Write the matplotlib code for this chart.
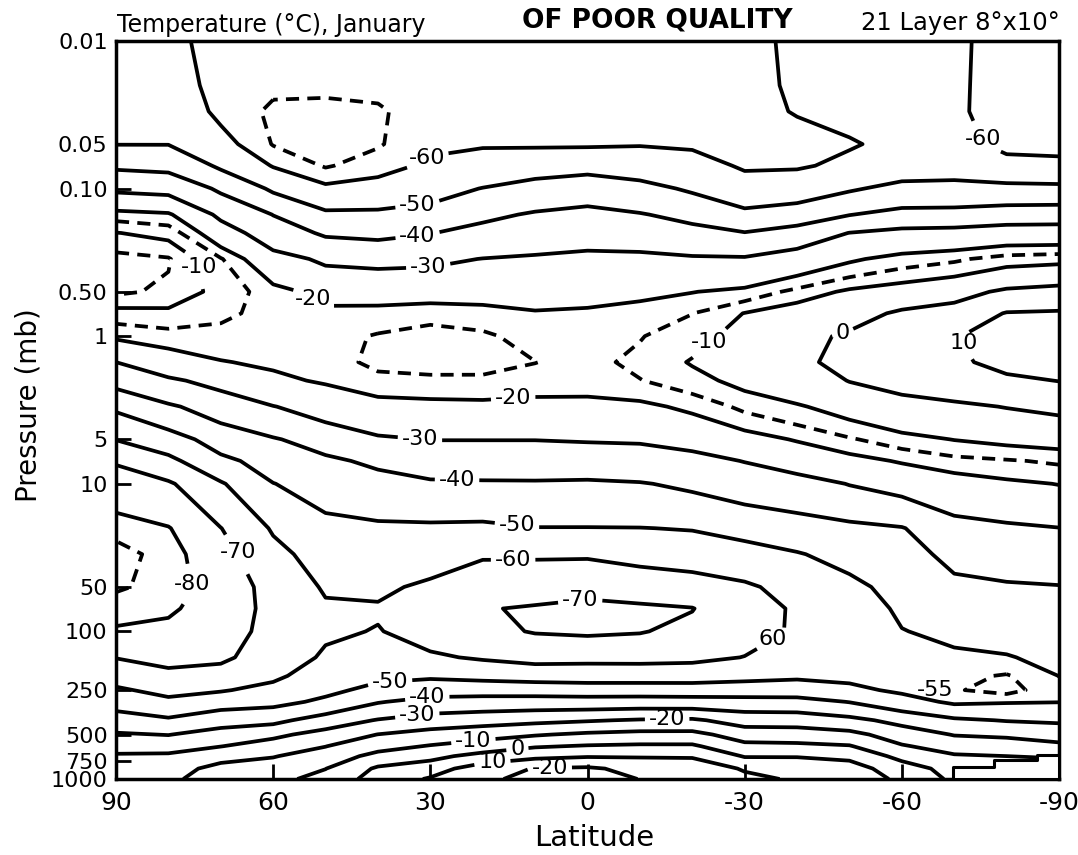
import numpy as np
import matplotlib
matplotlib.use("Agg")
import matplotlib.pyplot as plt

plt.rcParams['font.family'] = ['DejaVu Sans']
plt.rcParams['lines.dashed_pattern'] = [3.5, 2.2]

# grid: latitude columns (90N -> 90S) and pressure rows (mb)
lats = [90, 80, 70, 60, 50, 40, 30, 20, 10, 0, -10, -20, -30, -40, -50, -60, -70, -80, -90]
pres = [0.01, 0.02, 0.03, 0.05, 0.07, 0.1, 0.15, 0.2, 0.3, 0.5, 0.7, 1, 1.5, 2, 3, 5, 7,
        10, 20, 30, 50, 70, 100, 150, 200, 250, 300, 400, 500, 600, 700, 850, 1000]

# temperature (C) per latitude, top of the atmosphere down to the surface
t90n = [-57, -54, -52.2, -50.2, -41.5, -31.8, -17.5, -9.8, -3, -4, -12.3, -18.8, -30, -36.8, -48.5, -59.7, -69, -75.5, -83.4, -87, -85.6, -82.8, -79, -70.3, -63.7, -58.7, -53.5, -46, -39, -33, -29, -27, -26]
t80n = [-58.5, -57, -55, -50.2, -42.5, -33, -19, -11.8, -4.5, -6, -11.5, -17, -24, -31.5, -41.3, -54.7, -62.4, -71.3, -80.5, -83, -83.5, -81.5, -77.4, -72.6, -67.8, -62.6, -58, -48.5, -40.3, -33.5, -28.5, -24, -22]
t70n = [-62, -62, -61.5, -57.4, -51.5, -41.5, -32, -25.3, -14.5, -12, -13.7, -17, -20.3, -27, -35.7, -45.4, -52.4, -61, -70.2, -74, -76, -75, -73.5, -71.5, -66.7, -60.8, -54, -44.2, -36, -30.2, -23.3, -17, -15]
t60n = [-63, -64, -66, -65.3, -60.5, -51.5, -40.2, -35.4, -26.7, -17.5, -17, -17.8, -19, -21.4, -30.3, -40.8, -46, -50.2, -59, -63, -66.5, -67.5, -67.5, -66, -62, -57, -52.6, -42.7, -32.1, -25.8, -20.5, -15.5, -13]
t50n = [-62, -63.5, -67, -68, -65.5, -58.4, -48, -41.2, -31.5, -22.4, -18.5, -17, -17.5, -19.2, -25.8, -35.9, -41.8, -46.3, -52.7, -55.4, -59, -61.2, -61.3, -58.6, -54.8, -52, -48.3, -35.3, -26.5, -20.2, -15.7, -10.2, -6.5]
t40n = [-62, -63.5, -65.8, -65.5, -62.5, -57, -48, -42.3, -32.4, -22.9, -18.1, -14.5, -13.5, -16.7, -22.4, -31.3, -38.1, -43.7, -51.7, -54.7, -58.5, -60.8, -59.6, -55, -51.8, -47.6, -40.6, -29.4, -19.8, -13.5, -6.9, 1.5, 4]
t30n = [-61.5, -62, -62, -61.3, -58.7, -53.6, -46.6, -40.3, -31.7, -23.2, -16.7, -13, -13.5, -15.8, -22.1, -29.8, -35.4, -41.3, -51.8, -56.5, -61.5, -64, -63.3, -58.8, -51.5, -44.1, -36.9, -25.6, -16.3, -9.3, -2.7, 5.3, 11]
t20n = [-61, -61, -61, -60.7, -56.3, -49.7, -42.1, -36.9, -29.8, -22.9, -17.8, -14, -13.7, -15.7, -21.8, -29.8, -35.3, -41, -52.2, -59.2, -65, -69.5, -68, -61, -52.8, -44, -36, -24, -13.6, -5.4, 3.3, 15.5, 18]
t10n = [-61, -61, -61, -61, -54, -46.5, -39, -34.8, -28.9, -22.9, -19.5, -17.2, -14.9, -16.8, -22.3, -29.8, -35.3, -40.9, -50.3, -59, -66.4, -70.8, -70.5, -63, -54, -44.3, -35.7, -22.3, -10.8, -0.9, 7.5, 20.5, 23]
t0 = [-61.5, -61.5, -61.5, -61, -52.8, -44.7, -37.3, -33.3, -28.1, -22.5, -19, -17.5, -16.5, -17.5, -21.9, -29.3, -35.3, -41.2, -50.3, -59, -67.7, -72, -71.3, -62.5, -54.4, -45, -35.8, -20.8, -8.3, 0.8, 9.2, 21.5, 24]
t10s = [-61, -61, -61, -60.5, -54.1, -47.3, -39.4, -34.4, -28, -21.2, -18.2, -15.3, -13.7, -15.2, -21.6, -29, -34.6, -40.5, -50.2, -57.3, -65.7, -71.5, -70.5, -62.6, -54.4, -45, -35.5, -19.2, -6.9, 1.5, 9.2, 17, 19.8]
t20s = [-61, -61, -61, -61, -56.8, -51.2, -42.8, -36.9, -28.9, -20.2, -15.1, -12.1, -9.5, -12, -18.5, -27.1, -32.8, -38.5, -49.5, -56, -64.3, -70.3, -67.7, -62, -54.5, -45, -36, -18.5, -7, 1.5, 9.2, 15, 17]
t30s = [-61, -61, -61.5, -62, -61, -56, -47.7, -39.6, -29, -18.4, -9.8, -7.5, -6, -8, -13.7, -23, -29.7, -35.8, -46.8, -54, -61.5, -63.5, -63, -59.8, -52.7, -45.2, -36.2, -24.1, -14.7, -7.3, -0.7, 9.2, 12]
t40s = [-59.3, -59.5, -59.7, -62, -60.8, -55, -45.2, -36, -25.3, -13.5, -6, -3, -2.5, -5, -10.7, -19.4, -26.3, -33.3, -44.9, -50.6, -56.5, -59, -59, -55.5, -51.5, -45.2, -36.5, -24.4, -15, -7.9, -0.7, 8, 9]
t50s = [-58, -58.3, -58.5, -60.5, -58.5, -51, -40.3, -29.8, -21, -8.8, -3.7, 1.5, 3.5, 0.3, -7.1, -15.6, -22.5, -29.7, -42.5, -47, -52.5, -55, -56.5, -55.5, -52, -48, -40.3, -27.3, -17.1, -9.3, -2.1, 4, 6]
t60s = [-57.5, -57.8, -58, -58.5, -54.5, -47.5, -36.9, -27.4, -17.7, -6.3, 1.5, 6, 6, 3.5, -3.6, -12.1, -19.3, -27, -40.5, -43.5, -46.5, -48.5, -50.3, -52.5, -53, -51.5, -46.4, -33, -24.8, -19.1, -13.1, -5, -2]
t70s = [-58.5, -58.7, -59, -57, -54, -47.2, -36.7, -26.8, -15.9, -3.5, 4, 9.5, 8.5, 5, -1.5, -9.8, -16.6, -23.6, -33.5, -37.5, -42.2, -45, -48, -51.5, -53.5, -54.5, -51.5, -38.4, -30.5, -24, -19, -14, -12]
t80s = [-63, -63, -62.5, -62, -57.3, -47.3, -35, -25.4, -12.9, 1.7, 10.5, 14, 12.5, 8.4, 0.3, -8.2, -15.5, -21.3, -31.7, -35.8, -41, -43.5, -46.9, -50.5, -55.5, -57, -50.6, -40.5, -31.7, -25, -20, -15, -12]
t90s = [-63, -63, -62.7, -62, -58.2, -47.6, -34.4, -25.5, -12, 3.6, 11, 14, 12.5, 10.2, 2, -7, -14.2, -19.8, -30.2, -34.7, -40.4, -42.7, -45.2, -47.8, -49.9, -51.5, -50.2, -41.5, -33.7, -28, -21, -15, -12]

solid_levels = [-80, -70, -60, -50, -40, -30, -20, -10, 0, 10, 20]

# contour labels as lettered on the chart (level, text, lat, pressure)
lab_levels = [-60, -50, -40, -30, -20, -10, -20, -30, -40, -50, -60, -70, -80, -70, -60,
              -10, 0, 10, -60, -50, -40, -30, -20, -10, 0, 10, 20]
lab_texts = ['-60', '-50', '-40', '-30', '-20', '-10', '-20', '-30', '-40', '-50', '-60', '-70', '-80', '-70', '60',
             '-10', '0', '10', '-60', '-50', '-40', '-30', '-20', '-10', '0', '10', '-20']
lab_lats = [30.1, 32.4, 32.4, 30.4, 52.4, 74.5, 14.2, 32.0, 24.9, 13.5, 14.2, 66.9, 74.5, 1.4, -35.4,
            -22.8, -49.2, -72.0, -77.4, 37.7, 30.6, 32.5, -15.2, 21.9, 13.5, 18.2, 7.2]
lab_pres = [0.067, 0.133, 0.213, 0.33, 0.57, 0.34, 2.58, 5.05, 9.4, 19.6, 31.4, 29.4, 47, 61.3, 114,
            1.06, 1.06, 1.1, 0.043, 220, 278, 368, 386, 503, 570, 743, 897]

# Antarctic surface steps
terrain_lat = [-69.8, -77.6, -85.8, -90.0]
terrain_p = [829, 743, 688, 688]

p_ticks = [0.01, 0.05, 0.10, 0.50, 1, 5, 10, 50, 100, 250, 500, 750, 1000]
p_tick_labels = ['0.01', '0.05', '0.10', '0.50', '1', '5', '10', '50', '100', '250', '500', '750', '1000']
lat_ticks = [90, 60, 30, 0, -30, -60, -90]
lat_tick_labels = ['90', '60', '30', '0', '-30', '-60', '-90']

T = np.column_stack([t90n, t80n, t70n, t60n, t50n, t40n, t30n, t20n, t10n, t0,
                     t10s, t20s, t30s, t40s, t50s, t60s, t70s, t80s, t90s])
LAT, P = np.meshgrid(lats, pres)

fig = plt.figure(figsize=(10.78, 8.55), dpi=100)
ax = fig.add_axes([0.1076, 0.0889, 0.8748, 0.8632])
ax.set_yscale('log')

lw = 2.7
# one contour set per solid level so each can be labelled by hand
solid = {}
for lev in solid_levels:
    solid[lev] = ax.contour(lats, pres, T, levels=[lev], colors='black',
                            linewidths=lw, linestyles='solid')

# dashed half-step contours only where the chart draws them
dashed = [
    (-65, (P > 0.1)),
    (-15, (P > 15)),
    (-5, (P > 2) | (LAT < 70)),
    (-85, (P < 10) | (P > 100) | (LAT < 70)),
    (-55, (P < 150) | (P > 400) | (LAT > -65)),
]
for lev, mask in dashed:
    ax.contour(lats, pres, np.ma.masked_where(mask, T), levels=[lev],
               colors='black', linewidths=lw, linestyles='dashed')

for lev, txt, la, pp in zip(lab_levels, lab_texts, lab_lats, lab_pres):
    solid[lev].clabel(manual=[(la, pp)], fmt={lev: txt}, inline=True,
                      inline_spacing=4, fontsize=16, colors='black')
for cs in solid.values():
    for t in cs.labelTexts:
        t.set_rotation(0)

ax.text(-66.3, 250, '-55', fontsize=16, ha='center', va='center')

ax.fill_between(terrain_lat, terrain_p, 1000, step='post', facecolor='white',
                edgecolor='black', linewidth=2.2, zorder=3)

ax.set_xlim(90, -90)
ax.set_ylim(1000, 0.01)
ax.set_xticks(lat_ticks, lat_tick_labels)
ax.set_yticks(p_ticks, p_tick_labels)
ax.minorticks_off()
ax.tick_params(direction='in', length=11, width=2, top=False, right=False)
ax.tick_params(axis='x', pad=9, labelsize=18)
ax.tick_params(axis='y', pad=6, labelsize=16)
for s in ax.spines.values():
    s.set_linewidth(2.5)

ax.set_xlabel('Latitude', fontsize=21, va='baseline')
ax.xaxis.set_label_coords(0.507, -0.091)
ax.set_ylabel('Pressure (mb)', fontsize=20, va='baseline')
ax.yaxis.set_label_coords(-0.084, 0.507)

fig.text(0.1085, 0.9626, 'Temperature (°C), January', fontsize=17, va='baseline')
fig.text(0.4842, 0.9673, 'OF POOR QUALITY', fontsize=19, fontweight='bold', va='baseline')
fig.text(0.9833, 0.965, '21 Layer 8°x10°', fontsize=17.5, va='baseline', ha='right')

fig.savefig('out.png', dpi=100)
